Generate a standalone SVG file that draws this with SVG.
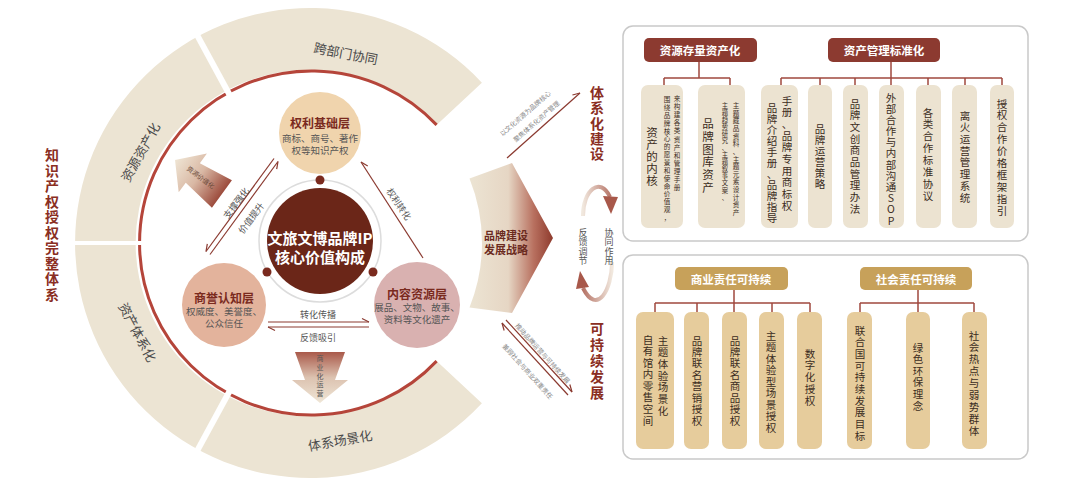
<svg xmlns="http://www.w3.org/2000/svg" width="1080" height="481" viewBox="0 0 1080 481">
<style>
text{font-family:"Noto Sans CJK SC","Noto Sans",sans-serif;dominant-baseline:central;text-anchor:middle}
.ring{font-size:13px;fill:#4a4a4a}
.ttl{font-size:12px;font-weight:bold;fill:#7a2a1e}
.sub{font-size:9.5px;fill:#555}
.lbl{font-size:9px;fill:#555}
.tiny{font-size:6.5px;fill:#888}
.big{font-size:14px;font-weight:bold;fill:#8a2e22}
.hd{font-size:11.5px;font-weight:bold;fill:#fff}
.bx{font-size:10.5px;fill:#3b2c22}
.bx2{font-size:11.5px;fill:#3b2c22}
.sm{font-size:6.6px;fill:#3b2c22}
.ln{stroke:#8b3a30;stroke-width:1.2;fill:none}
.cn{stroke:#a0483e;stroke-width:1.5;fill:none}
.tb{fill:#ece3d1}
.bb{fill:#e6cc9c}
</style>
<defs>
<marker id="hL" viewBox="-9 -6 10 12" refX="0" refY="0" markerWidth="10" markerHeight="12" markerUnits="userSpaceOnUse" orient="auto"><path d="M0,0 L-7,-3.5" stroke="#8b3a30" stroke-width="1.2" fill="none"/></marker>
<marker id="hR" viewBox="-9 -6 10 12" refX="0" refY="0" markerWidth="10" markerHeight="12" markerUnits="userSpaceOnUse" orient="auto"><path d="M0,0 L-7,3.5" stroke="#8b3a30" stroke-width="1.2" fill="none"/></marker>
<linearGradient id="gMain" gradientUnits="userSpaceOnUse" x1="470" y1="0" x2="555" y2="0">
<stop offset="0" stop-color="#ece4d3"/><stop offset="0.45" stop-color="#e6d6c4"/><stop offset="0.75" stop-color="#b8705f"/><stop offset="1" stop-color="#8a3528"/>
</linearGradient>
<linearGradient id="gUL" gradientUnits="userSpaceOnUse" x1="0" y1="0" x2="58" y2="0">
<stop offset="0" stop-color="#efe5d4"/><stop offset="0.5" stop-color="#d9b8a4"/><stop offset="1" stop-color="#9c4b3c"/>
</linearGradient>
<linearGradient id="gDn" gradientUnits="userSpaceOnUse" x1="0" y1="352" x2="0" y2="403">
<stop offset="0" stop-color="#a9594a"/><stop offset="0.5" stop-color="#dcc2b0"/><stop offset="1" stop-color="#efe6d6"/>
</linearGradient>
<linearGradient id="gCurve1" gradientUnits="userSpaceOnUse" x1="583" y1="0" x2="618" y2="0">
<stop offset="0" stop-color="#f1e8de"/><stop offset="1" stop-color="#a8584a"/>
</linearGradient>
<linearGradient id="gCurve2" gradientUnits="userSpaceOnUse" x1="612" y1="0" x2="576" y2="0">
<stop offset="0" stop-color="#f1e8de"/><stop offset="1" stop-color="#a8584a"/>
</linearGradient>
</defs>
<rect width="1080" height="481" fill="#fff"/>

<g id="ring">
<path d="M481.9,82.7 A235,235 0 1 0 481.9,403.3 L435.8,360.3 A173,173 0 1 1 435.8,125.7 Z" fill="#ece4d3"/>
<path d="M436.6,124.9 A172,172 0 1 0 436.6,361.1" fill="none" stroke="#b5453a" stroke-width="3"/>
<line x1="231.3" y1="98" x2="195.5" y2="32.1" stroke="#fff" stroke-width="6"/>
<line x1="231.3" y1="388" x2="195.5" y2="453.9" stroke="#fff" stroke-width="6"/>
<line x1="150" y1="243" x2="70" y2="243" stroke="#fff" stroke-width="4"/>
<text class="ring" transform="translate(346,53) rotate(11)">跨部门协同</text>
<text class="ring" transform="translate(140,152) rotate(-61)">资源资产化</text>
<text class="ring" transform="translate(138,332) rotate(62)">资产体系化</text>
<text class="ring" transform="translate(340,440) rotate(-10)">体系场景化</text>
</g>

<g id="strategy-arrow">
<path d="M469.5,178.6 L512,163 L553,238 L512,313 L469.5,307.4 A172,172 0 0 0 469.5,178.6 Z" fill="url(#gMain)"/>
<text x="506" y="235" style="font-size:11px;font-weight:bold;fill:#6b2a1e">品牌建设</text>
<text x="506" y="249" style="font-size:11px;font-weight:bold;fill:#6b2a1e">发展战略</text>
</g>

<g id="arrow-ul">
<g transform="translate(175,160) rotate(36)">
<polygon points="0,0 22,-24 22,-12 58,-17 58,17 22,12 22,24" fill="url(#gUL)"/>
</g>
<text class="tiny" transform="translate(201,177) rotate(37)" style="fill:#6a4a3a">资源价值化</text>
</g>

<g id="arrow-down">
<polygon points="295,352 345,352 335,380 348,380 320,403 292,380 305,380" fill="url(#gDn)"/>
<text x="320 320 320 320 320" y="358 366.75 375.5 384.25 393" style="font-size:7px;fill:#555">商业化运营</text>
</g>

<g id="core">
<circle cx="320" cy="241" r="61" fill="#fff" stroke="#dcdcdc" stroke-width="1.5"/>
<circle cx="320" cy="241" r="53" fill="#6b2618"/>
<circle cx="320" cy="180" r="4.5" fill="#7a2a1e"/>
<circle cx="267" cy="272" r="4.5" fill="#7a2a1e"/>
<circle cx="373" cy="272" r="4.5" fill="#7a2a1e"/>
<text x="320" y="237" style="font-size:15px;font-weight:bold;fill:#fff">文旅文博品牌IP</text>
<text x="320" y="256" style="font-size:15px;font-weight:bold;fill:#fff">核心价值构成</text>
</g>

<g id="node-rights">
<circle cx="320" cy="133" r="41" fill="#f0d4ad"/>
<text class="ttl" x="320" y="122">权利基础层</text>
<text class="sub" x="320" y="138">商标、商号、著作</text>
<text class="sub" x="320" y="150">权等知识产权</text>
</g>
<g id="node-reputation">
<circle cx="224" cy="305" r="42" fill="#e3b39c"/>
<text class="ttl" x="224" y="297">商誉认知层</text>
<text class="sub" x="224" y="311">权威度、美誉度、</text>
<text class="sub" x="224" y="323">公众信任</text>
</g>
<g id="node-content">
<circle cx="417" cy="305" r="43" fill="#d9b1b0"/>
<text class="ttl" x="417" y="293">内容资源层</text>
<text class="sub" x="417" y="307">展品、文物、故事、</text>
<text class="sub" x="417" y="319">资料等文化遗产</text>
</g>

<g id="connectors">
<line class="ln" x1="274" y1="158.5" x2="206" y2="251.5" marker-end="url(#hR)"/>
<line class="ln" x1="210" y1="254.5" x2="278" y2="161.5" marker-end="url(#hR)"/>
<line class="ln" x1="423" y1="258" x2="361" y2="162" marker-end="url(#hR)"/>
<line class="ln" x1="268" y1="322" x2="369" y2="322" marker-end="url(#hL)"/>
<line class="ln" x1="369" y1="327" x2="268" y2="327" marker-end="url(#hL)"/>
<line class="ln" x1="507" y1="158" x2="580" y2="93" marker-end="url(#hL)"/>
<line class="ln" x1="568" y1="395" x2="502" y2="323" marker-end="url(#hL)"/>
<line class="ln" x1="506" y1="320" x2="572" y2="392" marker-end="url(#hL)"/>
<path d="M583,216 C583,190 600,176 610,197" fill="none" stroke="url(#gCurve1)" stroke-width="4"/>
<polygon points="603,196 618,197 611,214" fill="#a8584a"/>
<path d="M612,262 C612,290 597,316 583,288" fill="none" stroke="url(#gCurve2)" stroke-width="4"/>
<polygon points="576,289 589,287 580,271" fill="#a8584a"/>
<text class="lbl" transform="translate(236,203) rotate(-53)">支撑强化</text>
<text class="lbl" transform="translate(251,218) rotate(-53)">价值提升</text>
<text class="lbl" transform="translate(399,204) rotate(56)">权利转化</text>
<text class="lbl" x="318" y="314">转化传播</text>
<text class="lbl" x="318" y="337">反馈吸引</text>
<text class="tiny" transform="translate(525,113) rotate(-41)">以文化资源为品牌核心</text>
<text class="tiny" transform="translate(536,121) rotate(-41)">聚焦体系化资产管理</text>
<text class="tiny" transform="translate(543,353) rotate(48)">推动品牌运营与可持续发展</text>
<text class="tiny" transform="translate(528,371) rotate(48)">兼顾社会与商业双重责任</text>
</g>

<g id="titles">
<text class="big" x="52 52 52 52 52 52 52 52 52 52" y="154 169.5 185 200.5 216 231.5 247 262.5 278 293.5">知识产权授权完整体系</text>
<text class="big" x="597 597 597 597 597" y="92 107 122.5 138 153">体系化建设</text>
<text class="big" x="597 597 597 597 597" y="328 344 360 376 392">可持续发展</text>
<text style="font-size:9px;fill:#555" x="583 583 583 583" y="232 241.5 251 260.5">反馈调节</text>
<text style="font-size:9px;fill:#555" x="609 609 609 609" y="232 241.5 251 260.5">协同作用</text>
</g>

<g id="panel-top">
<rect x="623" y="26" width="405" height="215" rx="10" fill="#fff" stroke="#c9c9c9" stroke-width="1.5"/>
<path class="cn" d="M699,62 V78 M664,78 H730 M664,78 V85 M730,78 V85"/>
<path class="cn" d="M891,62 V85 M781,78 H1002 M781,78 V85 M820,78 V85 M855,78 V85 M928,78 V85 M965,78 V85 M1002,78 V85"/>
<rect x="644" y="38" width="113" height="24" rx="5" fill="#8c3a30"/>
<text class="hd" x="700" y="50">资源存量资产化</text>
<rect x="828" y="38" width="112" height="24" rx="5" fill="#8c3a30"/>
<text class="hd" x="884" y="50">资产管理标准化</text>
</g>
<g id="box-core">
<rect class="tb" x="641" y="85" width="42" height="143" rx="7"/>
<text class="bx2" x="652 652 652 652 652" y="132 144 156 168 180">资产的内核</text>
<text class="sm" x="667 667 667 667 667 667 667 667 667 667 667 667 667 667 667 667" y="99 106.9 114.7 122.6 130.5 138.4 146.2 154.1 162 169.8 177.7 185.6 193.4 201.3 209.2 217">围绕品牌核心的愿景和使命价值观，</text>
<text class="sm" x="677 677 677 677 677 677 677 677 677 677 677 677" y="98 106.1 114.2 122.3 130.4 138.5 146.6 154.7 162.8 170.9 179 187.1">来构建各类资产和管理手册</text>
</g>
<g id="box-library">
<rect class="tb" x="698" y="85" width="47" height="143" rx="7"/>
<text class="bx2" x="708 708 708 708 708 708" y="123 135.8 148.6 161.4 174.2 187">品牌图库资产</text>
<text class="sm" style="font-size:6.3px" x="725 725 725 725 725 725 725 725 725 725 725 725 725 725" y="105 112.1 119.2 126.2 133.3 140.4 147.5 154.6 161.6 168.7 175.8 182.9 190 197">主题趋势研究、主题叙事文案、</text>
<text class="sm" x="736 736 736 736 736 736 736 736 736 736 736 736 736 736 736" y="105 112.6 120.3 127.9 135.6 143.2 150.8 158.5 166.1 173.8 181.4 189 196.7 204.3 212">主题藏品资料、主题元素设计资产</text>
</g>
<g id="box-manual">
<rect class="tb" x="761" y="85" width="37" height="143" rx="7"/>
<text class="bx" x="772 772 772 772 772 772 772 772 772 772 772" y="107 118 129 140 151 162 173 184 195 206 217">品牌介绍手册、品牌指导</text>
<text class="bx" x="787 787 787 787 787 787 787 787 787 787" y="100 111.7 123.3 135 146.7 158.3 170 181.7 193.3 205">手册、品牌专用商标权</text>
</g>
<g id="box-strategy">
<rect class="tb" x="808" y="85" width="24" height="143" rx="7"/>
<text class="bx" x="820 820 820 820 820 820" y="128 139 150 161 172 183">品牌运营策略</text>
</g>
<g id="box-merch">
<rect class="tb" x="843" y="85" width="25" height="143" rx="7"/>
<text class="bx" x="855 855 855 855 855 855 855 855 855 855" y="103 114.7 126.3 138 149.7 161.3 173 184.7 196.3 208">品牌文创商品管理办法</text>
</g>
<g id="box-sop">
<rect class="tb" x="879" y="85" width="25" height="143" rx="7"/>
<text class="bx" x="891 891 891 891 891 891 891 891 891 891 891 891" y="97 108.2 119.4 130.5 141.7 152.9 164.1 175.3 186.5 197.6 208.8 220">外部合作与内部沟通SOP</text>
</g>
<g id="box-agreement">
<rect class="tb" x="916" y="85" width="25" height="143" rx="7"/>
<text class="bx" x="928 928 928 928 928 928 928 928" y="112 123.9 135.7 147.6 159.4 171.3 183.1 195">各类合作标准协议</text>
</g>
<g id="box-system">
<rect class="tb" x="952" y="85" width="25" height="143" rx="7"/>
<text class="bx" x="965 965 965 965 965 965 965 965" y="115 126.7 138.4 150.1 161.8 173.5 185.2 197">离火运营管理系统</text>
</g>
<g id="box-price">
<rect class="tb" x="990" y="85" width="24" height="143" rx="7"/>
<text class="bx" x="1002 1002 1002 1002 1002 1002 1002 1002 1002 1002" y="103 114.9 126.8 138.7 150.6 162.4 174.3 186.2 198.1 210">授权合作价格框架指引</text>
</g>

<g id="panel-bottom">
<rect x="623" y="255" width="405" height="204" rx="10" fill="#fff" stroke="#c9c9c9" stroke-width="1.5"/>
<path class="cn" d="M734,290 V303 M655,303 H810 M655,303 V312 M697,303 V312 M734,303 V312 M772,303 V312 M810,303 V312"/>
<path class="cn" d="M918,290 V312 M860,303 H974 M860,303 V312 M974,303 V312"/>
<rect x="675" y="267" width="113" height="23" rx="5" fill="#c7a15a"/>
<text class="hd" x="731" y="278.5">商业责任可持续</text>
<rect x="860" y="267" width="112" height="23" rx="5" fill="#c7a15a"/>
<text class="hd" x="916" y="278.5">社会责任可持续</text>
</g>
<g id="box-retail">
<rect class="bb" x="636" y="312" width="38" height="137" rx="7"/>
<text class="bx" x="648 648 648 648 648 648 648 648" y="339 350.6 362.1 373.7 385.3 396.9 408.4 420">自有馆内零售空间</text>
<text class="bx" x="663 663 663 663 663 663 663" y="340 351.7 363.3 375 386.7 398.3 410">主题体验场景化</text>
</g>
<g id="box-comarketing">
<rect class="bb" x="684" y="312" width="25" height="137" rx="7"/>
<text class="bx" x="697 697 697 697 697 697 697 697" y="340 351.4 362.9 374.3 385.7 397.1 408.6 420">品牌联名营销授权</text>
</g>
<g id="box-cobrand">
<rect class="bb" x="722" y="312" width="25" height="137" rx="7"/>
<text class="bx" x="735 735 735 735 735 735 735 735" y="340 351.4 362.9 374.3 385.7 397.1 408.6 420">品牌联名商品授权</text>
</g>
<g id="box-scene">
<rect class="bb" x="759" y="312" width="25" height="137" rx="7"/>
<text class="bx" x="771 771 771 771 771 771 771 771 771" y="335 346.5 358 369.5 381 392.5 404 415.5 427">主题体验型场景授权</text>
</g>
<g id="box-digital">
<rect class="bb" x="797" y="312" width="25" height="137" rx="7"/>
<text class="bx" x="810 810 810 810 810" y="353 364.75 376.5 388.25 400">数字化授权</text>
</g>
<g id="box-sdg">
<rect class="bb" x="847" y="312" width="25" height="137" rx="7"/>
<text class="bx" x="860 860 860 860 860 860 860 860 860 860" y="330 341.7 353.3 365 376.7 388.3 400 411.7 423.3 435">联合国可持续发展目标</text>
</g>
<g id="box-green">
<rect class="bb" x="906" y="312" width="24" height="137" rx="7"/>
<text class="bx" x="918 918 918 918 918 918" y="347 358.6 370.2 381.8 393.4 405">绿色环保理念</text>
</g>
<g id="box-social">
<rect class="bb" x="962" y="312" width="25" height="137" rx="7"/>
<text class="bx" x="974 974 974 974 974 974 974 974 974" y="335 346.9 358.75 370.6 382.5 394.4 406.25 418.1 430">社会热点与弱势群体</text>
</g>
</svg>
